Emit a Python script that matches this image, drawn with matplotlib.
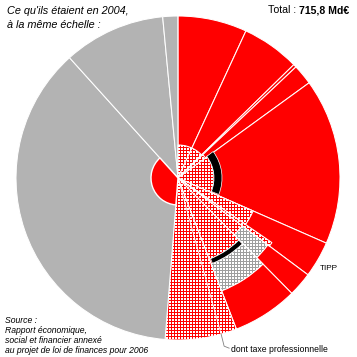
import numpy as np
import matplotlib.pyplot as plt
from matplotlib.patches import Wedge

plt.rcParams['font.family'] = ['Liberation Sans', 'DejaVu Sans']

# prélèvements obligatoires 2004, Md€, clockwise from 12 o'clock
total = 715.8
values = [49.3, 41.4, 2.2, 14.5, 118.7, 25.8, 17.3, 46.7, 51.1, 265.2, 72.8, 10.7]
kinds = ['etat'] * 8 + ['local'] + ['social'] * 3
labels = ['', '', '', '', '', 'TIPP', '', '', 'dont taxe professionnelle', '', '', '']

# hatched local part sitting inside the state wedges (Md€ spans from 12 o'clock)
local_inner = [49.3, 41.4, 2.2, 14.5, 118.7, 21.5, 4.3, 17.3, 46.7]
# grey hatched part, starting after the TIPP wedge
grey_inner = [17.3, 46.7]
grey_start = 251.9
# black arcs: (start, span) in Md€
black_arcs = [(105.4, 117.3), (269.8, 44.4)]
# taxe professionnelle share at the start of the local wedge
taxe_pro = 11.3

# layout (pixels)
W = 357
cx, cy, R = 178, 178, 162
local_r = [33, 33, 33, 34, 36, 82, 114, 80, 87]
grey_r = [(80, 112), (92, 121)]
black_r = [(36, 44), (87, 92)]
csg_r = 27

RED = '#ff0000'
GREY = '#b3b3b3'

# pixel grid textures for the hatched areas
yy, xx = np.mgrid[0:W, 0:W]
grid = (xx % 3 == 0) | (yy % 3 == 0)
tex_red = np.ones((W, W, 3))
tex_red[grid] = [1, 0, 0]
tex_grey = np.ones((W, W, 3))
tex_grey[grid] = [0.62, 0.62, 0.62]

z = [1]


def nz():
    z[0] += 1
    return z[0]


def deg(v):
    return v * 360.0 / total


def polar(phi, r):
    a = np.radians(phi)
    return cx + r * np.sin(a), cy - r * np.cos(a)


def wedge(ax, a0, a1, r_out, r_in=0, **kw):
    w = None if r_in <= 0 else r_out - r_in
    return ax.add_patch(Wedge((cx, cy), r_out, a0 - 90, a1 - 90, width=w,
                              zorder=nz(), **kw))


def hatched(ax, a0, a1, r_out, r_in=0, tex=tex_red):
    clip = wedge(ax, a0, a1, r_out, r_in, facecolor='white', lw=0)
    im = ax.imshow(tex, extent=(0, W, W, 0), interpolation='nearest',
                   zorder=nz())
    im.set_clip_path(clip)
    wedge(ax, a0, a1, r_out, r_in, fill=False, edgecolor='white', lw=0.75)


fig = plt.figure(figsize=(3.57, 3.57), dpi=100)
ax = fig.add_axes([0, 0, 1, 1])
ax.axis('off')

bounds = np.concatenate([[0], np.cumsum(values)])
for i, k in enumerate(kinds):
    a0, a1 = deg(bounds[i]), deg(bounds[i + 1])
    if k == 'local':
        hatched(ax, a0, a1, R)
    else:
        wedge(ax, a0, a1, R, facecolor=RED if k == 'etat' else GREY,
              edgecolor='white', lw=0.75)

# local part inside state wedges
lb = np.concatenate([[0], np.cumsum(local_inner)])
for i, r in enumerate(local_r):
    hatched(ax, deg(lb[i]), deg(lb[i + 1]), r)

# grey hatched part
gb = grey_start + np.concatenate([[0], np.cumsum(grey_inner)])
for i, (r0, r1) in enumerate(grey_r):
    hatched(ax, deg(gb[i]), deg(gb[i + 1]), r1, r0, tex=tex_grey)

# black arcs
for (s, span), (r0, r1) in zip(black_arcs, black_r):
    wedge(ax, deg(s), deg(s + span), r1, r0, facecolor='black',
          edgecolor='white', lw=0.5)

# red share inside the big social wedge
i_soc = kinds.index('social')
wedge(ax, deg(bounds[i_soc]), deg(bounds[i_soc + 1]), csg_r,
      facecolor=RED, edgecolor='white', lw=1)

# taxe professionnelle divider
i_loc = kinds.index('local')
phi_tp = deg(bounds[i_loc] + taxe_pro)
x0, y0 = polar(phi_tp, 0)
x1, y1 = polar(phi_tp, R)
ax.plot([x0, x1], [y0, y1], color='white', lw=0.6, zorder=nz())
ax.plot([x1, x1 + 3, x1 + 8], [y1, y1 + 12, y1 + 14], color='#808080',
        lw=0.6, zorder=nz())
ax.text(x1 + 10, y1 + 17.5, labels[i_loc], fontsize=6.2, ha='left',
        va='baseline')

# TIPP
i_tipp = labels.index('TIPP')
tx, ty = polar(deg((bounds[i_tipp] + bounds[i_tipp + 1]) / 2), 175)
ax.text(tx, ty + 3.5, 'TIPP', fontsize=5.9, ha='center', va='baseline')

ax.set_xlim(0, W)
ax.set_ylim(W, 0)
ax.set_aspect('auto')

ax.text(7, 14, "Ce qu'ils étaient en 2004,", fontsize=7.8, style='italic',
        va='baseline')
ax.text(7, 28, "à la même échelle :", fontsize=7.8, style='italic',
        va='baseline')
bold = ax.text(349, 13.3, "715,8 Md€", fontsize=7.6, weight='bold', ha='right',
               va='baseline')
fig.canvas.draw()
bb = bold.get_window_extent().transformed(ax.transData.inverted())
ax.text(bb.x0 - 2.5, 13.3, "Total :", fontsize=7.6, ha='right', va='baseline')

src = ["Source :", "Rapport économique,", "social et financier annexé",
       "au projet de loi de finances pour 2006"]
for j, s in enumerate(src):
    ax.text(5, 323.3 + j * 10, s, fontsize=6.2, style='italic', va='baseline')

fig.savefig('out.png', dpi=100)
